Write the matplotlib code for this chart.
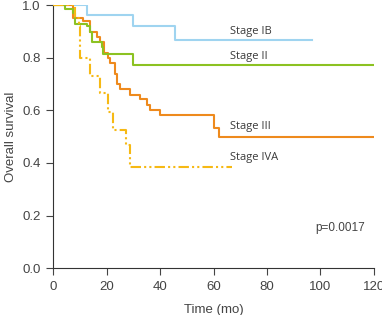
import matplotlib
matplotlib.use("Agg")
import matplotlib.pyplot as plt

# Kaplan-Meier curves (time in months, survival)
ib_t = [0, 12.6, 30.0, 45.6, 96.7]
ib_s = [1.0, 0.963, 0.921, 0.870, 0.870]

ii_t = [0, 4.5, 7.5, 8.2, 12.6, 13.8, 14.4, 18.2, 18.8, 29.9, 120]
ii_s = [1.0, 0.985, 0.97, 0.93, 0.92, 0.90, 0.86, 0.84, 0.815, 0.773, 0.773]

iii_t = [0, 7.5, 11.3, 13.8, 16.3, 17.6, 19.0, 20.7, 21.2, 23.2, 24.0, 25.0,
         28.8, 32.5, 35.0, 36.3, 40.0, 60.0, 61.9, 120]
iii_s = [1.0, 0.95, 0.94, 0.90, 0.88, 0.86, 0.82, 0.80, 0.78, 0.74, 0.70, 0.68,
         0.66, 0.643, 0.62, 0.60, 0.583, 0.532, 0.50, 0.50]

iva_t = [0, 8.2, 9.5, 10.0, 13.8, 17.6, 20.7, 22.4, 27.4, 28.8, 67.0]
iva_s = [1.0, 0.95, 0.92, 0.80, 0.73, 0.665, 0.595, 0.526, 0.469, 0.386, 0.386]

stage_labels = ["Stage IB", "Stage II", "Stage III", "Stage IVA"]
label_y = [0.902, 0.807, 0.537, 0.419]
x_ticks = [0, 20, 40, 60, 80, 100, 120]
y_ticks = [0.0, 0.2, 0.4, 0.6, 0.8, 1.0]
p_text = "p=0.0017"

plt.rcParams['font.family'] = ['Liberation Sans', 'DejaVu Sans']

fig = plt.figure(figsize=(3.82, 3.15), dpi=100)
ax = fig.add_axes([0.139, 0.149, 0.840, 0.834])

lw = 1.5
ax.step(ib_t, ib_s, where='post', color='#9fd4f0', lw=lw, zorder=2)
ax.step(iii_t, iii_s, where='post', color='#ee8a1d', lw=lw, zorder=3)
ax.step(ii_t, ii_s, where='post', color='#8cc222', lw=lw, zorder=4)
ax.step(iva_t, iva_s, where='post', color='#f6b914', lw=lw, zorder=5,
        linestyle=(0, (5, 1.5, 1, 1.5, 1, 1.5)))

for lab, yy in zip(stage_labels, label_y):
    ax.text(66.2, yy, lab, fontsize=8, color='#3a3a3a', family=['Open Sans', 'DejaVu Sans'],
            va='center', ha='left')

ax.text(98, 0.153, p_text, fontsize=8.5, color='#444444', va='center', ha='left')

ax.set_xlim(0, 120)
ax.set_ylim(0, 1.0)
ax.set_xticks(x_ticks)
ax.set_yticks(y_ticks)
ax.set_yticklabels([f"{v:.1f}" for v in y_ticks])
ax.tick_params(direction='out', length=5, width=0.8, colors='#444444', labelsize=9.5, pad=4)
ax.spines['top'].set_visible(False)
ax.spines['right'].set_visible(False)
for s in ['left', 'bottom']:
    ax.spines[s].set_color('#333333')
    ax.spines[s].set_linewidth(0.8)
ax.set_xlabel("Time (mo)", fontsize=9.5, color='#444444', labelpad=8)
ax.set_ylabel("Overall survival", fontsize=9.5, color='#444444', labelpad=4)

fig.savefig("out.png", dpi=100)
